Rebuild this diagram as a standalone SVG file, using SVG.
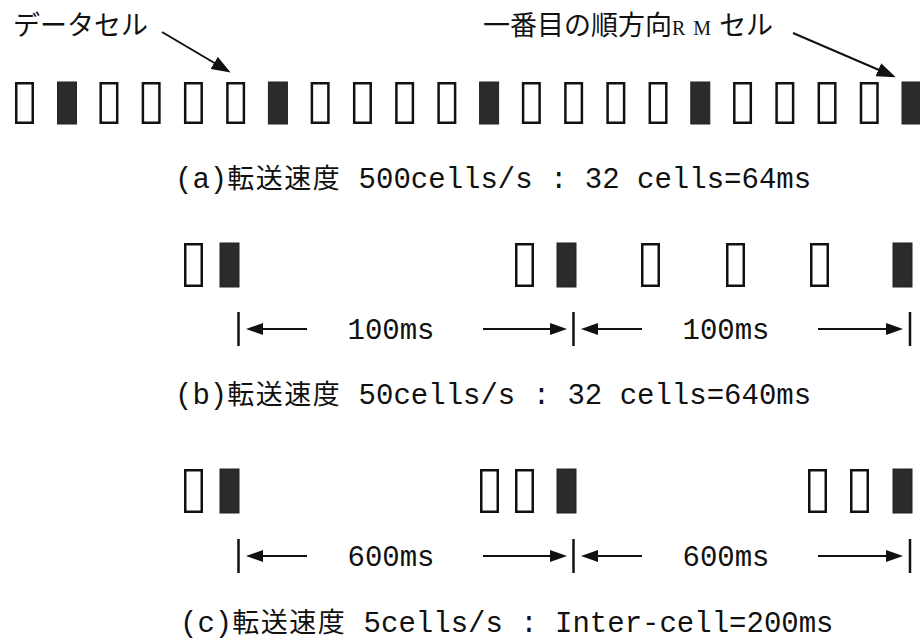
<svg xmlns="http://www.w3.org/2000/svg" width="920" height="640" viewBox="0 0 920 640">
<defs>
<style>
.e{fill:#fff;stroke:#111;stroke-width:2.5}
.f{fill:#2b2b2b;stroke:#222;stroke-width:1}
.tick{stroke:#111;stroke-width:2.5}
.ln{stroke:#111;stroke-width:2;fill:none}
.mono{font-family:"Liberation Mono","Noto Sans CJK JP",monospace;font-size:29px;fill:#111}
.cjk{font-family:"Noto Sans CJK JP",sans-serif;font-size:27px;letter-spacing:1.5px}
.top{font-family:"Noto Sans CJK JP",sans-serif;font-size:27px;fill:#111}
.rm{font-family:"Liberation Serif",serif;font-size:20px;letter-spacing:8px}
</style>
<marker id="ah" markerUnits="userSpaceOnUse" markerWidth="18" markerHeight="12" refX="14" refY="6" orient="auto">
<path d="M0,0 L17,6 L0,12 z" fill="#111"/>
</marker>
<marker id="ahd" markerUnits="userSpaceOnUse" markerWidth="20" markerHeight="14" refX="16" refY="7" orient="auto">
<path d="M0,0 L19,7 L0,14 z" fill="#111"/>
</marker>
</defs>
<rect width="920" height="640" fill="#fff"/>

<g id="label-data-cell"><text class="top" x="13" y="35">データセル</text></g>
<g id="label-rm-cell"><text class="top" x="483" y="35">一番目の順方向<tspan class="rm">RM</tspan>セル</text></g>

<g id="row-a">
<rect class="e" x="16.25" y="83.25" width="16.5" height="39.5"/>
<rect class="f" x="57.5" y="82" width="19" height="42"/>
<rect class="e" x="100.7" y="83.25" width="16.5" height="39.5"/>
<rect class="e" x="142.9" y="83.25" width="16.5" height="39.5"/>
<rect class="e" x="185.2" y="83.25" width="16.5" height="39.5"/>
<rect class="e" x="227.4" y="83.25" width="16.5" height="39.5"/>
<rect class="f" x="268.4" y="82" width="19" height="42"/>
<rect class="e" x="311.9" y="83.25" width="16.5" height="39.5"/>
<rect class="e" x="354.2" y="83.25" width="16.5" height="39.5"/>
<rect class="e" x="396.4" y="83.25" width="16.5" height="39.5"/>
<rect class="e" x="438.6" y="83.25" width="16.5" height="39.5"/>
<rect class="f" x="479.6" y="82" width="19" height="42"/>
<rect class="e" x="523.1" y="83.25" width="16.5" height="39.5"/>
<rect class="e" x="565.4" y="83.25" width="16.5" height="39.5"/>
<rect class="e" x="607.6" y="83.25" width="16.5" height="39.5"/>
<rect class="e" x="649.8" y="83.25" width="16.5" height="39.5"/>
<rect class="f" x="690.8" y="82" width="19" height="42"/>
<rect class="e" x="734.3" y="83.25" width="16.5" height="39.5"/>
<rect class="e" x="776.6" y="83.25" width="16.5" height="39.5"/>
<rect class="e" x="818.8" y="83.25" width="16.5" height="39.5"/>
<rect class="e" x="861.0" y="83.25" width="16.5" height="39.5"/>
<rect class="f" x="902" y="82" width="19" height="42"/>
</g>
<g id="caption-a"><text class="mono" x="175" y="188">(a)<tspan class="cjk">転送速度</tspan> 500cells/s : 32 cells=64ms</text></g>

<g id="row-b">
<rect class="e" x="185.25" y="244.25" width="16.5" height="41.5"/>
<rect class="f" x="220" y="243" width="19" height="44"/>
<rect class="e" x="516.25" y="244.25" width="16.5" height="41.5"/>
<rect class="f" x="557" y="243" width="19" height="44"/>
<rect class="e" x="642.25" y="244.25" width="16.5" height="41.5"/>
<rect class="e" x="727.25" y="244.25" width="16.5" height="41.5"/>
<rect class="e" x="811.25" y="244.25" width="16.5" height="41.5"/>
<rect class="f" x="893" y="243" width="19" height="44"/>
</g>
<g id="interval-b">
<text class="mono" x="391" y="339" text-anchor="middle">100ms</text>
<text class="mono" x="726" y="339" text-anchor="middle">100ms</text>
</g>
<g id="caption-b"><text class="mono" x="175" y="404">(b)<tspan class="cjk">転送速度</tspan> 50cells/s : 32 cells=640ms</text></g>

<g id="row-c">
<rect class="e" x="185.25" y="470.25" width="16.5" height="41.5"/>
<rect class="f" x="220" y="469" width="19" height="44"/>
<rect class="e" x="481.25" y="470.25" width="16.5" height="41.5"/>
<rect class="e" x="516.25" y="470.25" width="16.5" height="41.5"/>
<rect class="f" x="557" y="469" width="19" height="44"/>
<rect class="e" x="809.25" y="470.25" width="16.5" height="41.5"/>
<rect class="e" x="851.25" y="470.25" width="16.5" height="41.5"/>
<rect class="f" x="893" y="469" width="19" height="44"/>
</g>
<g id="interval-c">
<text class="mono" x="391" y="566" text-anchor="middle">600ms</text>
<text class="mono" x="726" y="566" text-anchor="middle">600ms</text>
</g>
<g id="caption-c"><text class="mono" x="180" y="632">(c)<tspan class="cjk">転送速度</tspan> 5cells/s : Inter-cell=200ms</text></g>

<g id="connectors">
<line class="ln" x1="162" y1="32" x2="228" y2="71" stroke-width="2.5" marker-end="url(#ahd)"/>
<line class="ln" x1="793" y1="33" x2="893" y2="76" stroke-width="2.5" marker-end="url(#ahd)"/>
<line class="tick" x1="238.5" y1="312" x2="238.5" y2="346"/>
<line class="tick" x1="573.5" y1="312" x2="573.5" y2="346"/>
<line class="tick" x1="910" y1="312" x2="910" y2="346"/>
<line class="ln" x1="307" y1="329" x2="249" y2="329" marker-end="url(#ah)"/>
<line class="ln" x1="483" y1="329" x2="564" y2="329" marker-end="url(#ah)"/>
<line class="ln" x1="642" y1="329" x2="584" y2="329" marker-end="url(#ah)"/>
<line class="ln" x1="818" y1="329" x2="900" y2="329" marker-end="url(#ah)"/>
<line class="tick" x1="238.5" y1="539" x2="238.5" y2="573"/>
<line class="tick" x1="573.5" y1="539" x2="573.5" y2="573"/>
<line class="tick" x1="910" y1="539" x2="910" y2="573"/>
<line class="ln" x1="307" y1="556" x2="249" y2="556" marker-end="url(#ah)"/>
<line class="ln" x1="483" y1="556" x2="564" y2="556" marker-end="url(#ah)"/>
<line class="ln" x1="642" y1="556" x2="584" y2="556" marker-end="url(#ah)"/>
<line class="ln" x1="818" y1="556" x2="900" y2="556" marker-end="url(#ah)"/>
</g>
</svg>
